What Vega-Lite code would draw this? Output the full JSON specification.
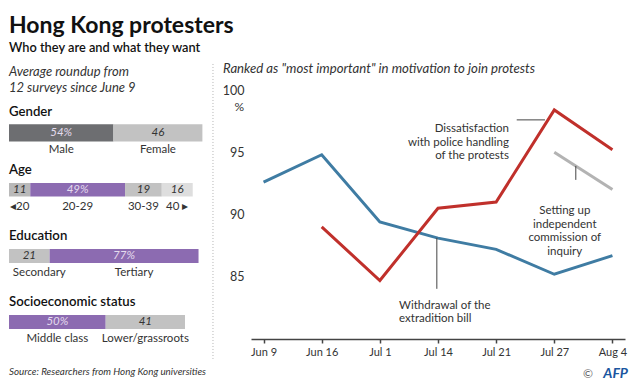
{
  "$schema": "https://vega.github.io/schema/vega-lite/v6.json",
  "padding": {"left": 9, "top": 14, "right": 13, "bottom": 4},
  "background": "white",
  "config": {
    "font": "Lato",
    "view": {"stroke": null},
    "title": {"anchor": "start", "font": "Lato", "color": "#111"},
    "text": {"font": "Lato"}
  },
  "title": {
    "text": "Hong Kong protesters",
    "subtitle": "Who they are and what they want",
    "fontSize": 23, "fontWeight": "bold", "color": "#111",
    "subtitleFontSize": 12.8, "subtitleFontWeight": 600, "subtitleColor": "#111",
    "subtitlePadding": 4, "offset": 7, "anchor": "start"
  },
  "spacing": 5,
  "hconcat": [
    {
      "title": {"text": "Source: Researchers from Hong Kong universities", "orient": "bottom", "anchor": "start", "fontSize": 9.8, "fontStyle": "italic", "fontWeight": "normal", "color": "#333", "offset": 22},
      "resolve": {"scale": {"color": "independent"}},
      "vconcat": [
        {
          "title": {"text": ["Average roundup from", "12 surveys since June 9"], "anchor": "start", "fontSize": 13, "fontStyle": "italic", "fontWeight": "normal", "color": "#333", "lineHeight": 16, "offset": -4.5},
          "spacing": 6,
          "resolve": {"scale": {"color": "independent"}},
          "vconcat": [
            {
              "title": {"text": "Gender", "fontSize": 13.2, "fontWeight": 600, "color": "#111", "offset": -29.5},
              "width": 193.4, "height": 51.5,
              "data": {"values": [
                {"sec": "Gender", "cat": "Male", "pct": 54, "label": "54%", "o": 1},
                {"sec": "Gender", "cat": "Female", "pct": 46, "label": "46", "o": 2}
              ]},
              "encoding": {
                "y": {"field": "sec", "type": "nominal", "axis": null, "scale": {"paddingInner": 0, "paddingOuter": 1.407, "align": 1}},
                "x": {"field": "pct", "type": "quantitative", "stack": "zero", "axis": null, "scale": {"domain": [0, 100]}},
                "order": {"field": "o"},
                "detail": {"field": "cat"}
              },
              "layer": [
                {"mark": {"type": "bar"}, "encoding": {"color": {"field": "cat", "type": "nominal", "legend": null, "scale": {"domain": ["Male", "Female"], "range": ["#6d6e71", "#c2c2c2"]}}}},
                {"mark": {"type": "text", "fontStyle": "italic", "fontSize": 11.5}, "encoding": {"x": {"field": "pct", "type": "quantitative", "stack": "zero", "bandPosition": 0.5}, "text": {"field": "label"}, "color": {"condition": {"test": "indexof(['Male','20-29','Tertiary','Middle class'], datum.cat) >= 0", "value": "#e4dcee"}, "value": "#333333"}}},
                {"mark": {"type": "text", "fontSize": 11.5, "dy": 17, "color": "#333"}, "encoding": {"x": {"field": "pct", "type": "quantitative", "stack": "zero", "bandPosition": 0.5}, "text": {"field": "cat"}}}
              ]
            },
            {
              "spacing": 15,
              "resolve": {"scale": {"color": "independent"}},
              "vconcat": [
                {
                  "title": {"text": "Age", "fontSize": 13.2, "fontWeight": 600, "color": "#111", "offset": 6},
                  "width": 193.4, "height": 13.5,
                  "data": {"values": [
                    {"sec": "Age", "cat": "◂20", "pct": 11, "label": "11", "o": 1},
                    {"sec": "Age", "cat": "20-29", "pct": 49, "label": "49%", "o": 2},
                    {"sec": "Age", "cat": "30-39", "pct": 19, "label": "19", "o": 3},
                    {"sec": "Age", "cat": "40 ▸", "pct": 16, "label": "16", "o": 4}
                  ]},
                  "encoding": {
                    "y": {"field": "sec", "type": "nominal", "axis": null, "scale": {"paddingInner": 0, "paddingOuter": 0}},
                    "x": {"field": "pct", "type": "quantitative", "stack": "zero", "axis": null, "scale": {"domain": [0, 100]}},
                    "order": {"field": "o"},
                    "detail": {"field": "cat"}
                  },
                  "layer": [
                    {"mark": {"type": "bar"}, "encoding": {"color": {"field": "cat", "type": "nominal", "legend": null, "scale": {"domain": ["◂20", "20-29", "30-39", "40 ▸"], "range": ["#b9b9b9", "#8c6bb1", "#c2c2c2", "#dedede"]}}}},
                    {"mark": {"type": "text", "fontStyle": "italic", "fontSize": 11.5}, "encoding": {"x": {"field": "pct", "type": "quantitative", "stack": "zero", "bandPosition": 0.5}, "text": {"field": "label"}, "color": {"condition": {"test": "indexof(['Male','20-29','Tertiary','Middle class'], datum.cat) >= 0", "value": "#e4dcee"}, "value": "#333333"}}},
                    {"mark": {"type": "text", "fontSize": 11.5, "dy": 17, "color": "#333"}, "encoding": {"x": {"field": "pct", "type": "quantitative", "stack": "zero", "bandPosition": 0.5}, "text": {"field": "cat"}}}
                  ]
                },
                {
                  "title": {"text": "Education", "fontSize": 13.2, "fontWeight": 600, "color": "#111", "offset": 6},
                  "width": 193.4, "height": 14,
                  "data": {"values": [
                    {"sec": "Education", "cat": "Secondary", "pct": 21, "label": "21", "o": 1},
                    {"sec": "Education", "cat": "Tertiary", "pct": 77, "label": "77%", "o": 2}
                  ]},
                  "encoding": {
                    "y": {"field": "sec", "type": "nominal", "axis": null, "scale": {"paddingInner": 0, "paddingOuter": 0}},
                    "x": {"field": "pct", "type": "quantitative", "stack": "zero", "axis": null, "scale": {"domain": [0, 100]}},
                    "order": {"field": "o"},
                    "detail": {"field": "cat"}
                  },
                  "layer": [
                    {"mark": {"type": "bar"}, "encoding": {"color": {"field": "cat", "type": "nominal", "legend": null, "scale": {"domain": ["Secondary", "Tertiary"], "range": ["#c2c2c2", "#8c6bb1"]}}}},
                    {"mark": {"type": "text", "fontStyle": "italic", "fontSize": 11.5}, "encoding": {"x": {"field": "pct", "type": "quantitative", "stack": "zero", "bandPosition": 0.5}, "text": {"field": "label"}, "color": {"condition": {"test": "indexof(['Male','20-29','Tertiary','Middle class'], datum.cat) >= 0", "value": "#e4dcee"}, "value": "#333333"}}},
                    {"mark": {"type": "text", "fontSize": 11.5, "dy": 17, "dx": 10, "color": "#333"}, "encoding": {"x": {"field": "pct", "type": "quantitative", "stack": "zero", "bandPosition": 0.5}, "text": {"field": "cat"}}}
                  ]
                },
                {
                  "title": {"text": "Socioeconomic status", "fontSize": 13.2, "fontWeight": 600, "color": "#111", "offset": 6},
                  "width": 193.4, "height": 14,
                  "data": {"values": [
                    {"sec": "Socioeconomic status", "cat": "Middle class", "pct": 50, "label": "50%", "o": 1},
                    {"sec": "Socioeconomic status", "cat": "Lower/grassroots", "pct": 41, "label": "41", "o": 2}
                  ]},
                  "encoding": {
                    "y": {"field": "sec", "type": "nominal", "axis": null, "scale": {"paddingInner": 0, "paddingOuter": 0}},
                    "x": {"field": "pct", "type": "quantitative", "stack": "zero", "axis": null, "scale": {"domain": [0, 100]}},
                    "order": {"field": "o"},
                    "detail": {"field": "cat"}
                  },
                  "layer": [
                    {"mark": {"type": "bar"}, "encoding": {"color": {"field": "cat", "type": "nominal", "legend": null, "scale": {"domain": ["Middle class", "Lower/grassroots"], "range": ["#8c6bb1", "#c2c2c2"]}}}},
                    {"mark": {"type": "text", "fontStyle": "italic", "fontSize": 11.5}, "encoding": {"x": {"field": "pct", "type": "quantitative", "stack": "zero", "bandPosition": 0.5}, "text": {"field": "label"}, "color": {"condition": {"test": "indexof(['Male','20-29','Tertiary','Middle class'], datum.cat) >= 0", "value": "#e4dcee"}, "value": "#333333"}}},
                    {"mark": {"type": "text", "fontSize": 11.5, "dy": 17, "color": "#333"}, "encoding": {"x": {"field": "pct", "type": "quantitative", "stack": "zero", "bandPosition": 0.5}, "text": {"field": "cat"}}}
                  ]
                }
              ]
            }
          ]
        }
      ]
    },
    {
      "width": 374, "height": 249,
      "title": {"text": "Ranked as \"most important\" in motivation to join protests", "fontSize": 13.2, "fontStyle": "italic", "fontWeight": "normal", "color": "#333", "anchor": "start", "frame": "group", "dx": -28, "offset": -12.5},
      "data": {"values": [
        {"date": "Jun 9", "idx": 0, "motive": "Withdrawal of the extradition bill", "pct": 92.6},
        {"date": "Jun 16", "idx": 1, "motive": "Withdrawal of the extradition bill", "pct": 94.8},
        {"date": "Jul 1", "idx": 2, "motive": "Withdrawal of the extradition bill", "pct": 89.4},
        {"date": "Jul 14", "idx": 3, "motive": "Withdrawal of the extradition bill", "pct": 88.1},
        {"date": "Jul 21", "idx": 4, "motive": "Withdrawal of the extradition bill", "pct": 87.2},
        {"date": "Jul 27", "idx": 5, "motive": "Withdrawal of the extradition bill", "pct": 85.2},
        {"date": "Aug 4", "idx": 6, "motive": "Withdrawal of the extradition bill", "pct": 86.7},
        {"date": "Jun 16", "idx": 1, "motive": "Dissatisfaction with police handling of the protests", "pct": 89.0},
        {"date": "Jul 1", "idx": 2, "motive": "Dissatisfaction with police handling of the protests", "pct": 84.7},
        {"date": "Jul 14", "idx": 3, "motive": "Dissatisfaction with police handling of the protests", "pct": 90.5},
        {"date": "Jul 21", "idx": 4, "motive": "Dissatisfaction with police handling of the protests", "pct": 91.0},
        {"date": "Jul 27", "idx": 5, "motive": "Dissatisfaction with police handling of the protests", "pct": 98.4},
        {"date": "Aug 4", "idx": 6, "motive": "Dissatisfaction with police handling of the protests", "pct": 95.2},
        {"date": "Jul 27", "idx": 5, "motive": "Setting up independent commission of inquiry", "pct": 95.0},
        {"date": "Aug 4", "idx": 6, "motive": "Setting up independent commission of inquiry", "pct": 92.0}
      ]},
      "layer": [
        {
          "data": {"values": [{}]},
          "mark": {"type": "rule", "color": "#b5b5b5", "strokeDash": [1, 2], "strokeWidth": 1},
          "encoding": {
            "x": {"datum": -0.87, "type": "quantitative", "scale": {"domain": [-0.216, 6.216], "nice": false, "zero": false}},
            "y": {"datum": 102.09, "type": "quantitative", "scale": {"domain": [80, 100], "nice": false, "zero": false}},
            "y2": {"datum": 78.4}
          }
        },
        {
          "mark": {"type": "line", "strokeWidth": 3},
          "encoding": {
            "x": {"field": "idx", "type": "quantitative", "title": null,
                  "scale": {"domain": [-0.216, 6.216], "nice": false, "zero": false},
                  "axis": {"values": [0, 1, 2, 3, 4, 5, 6], "labelExpr": "['Jun 9','Jun 16','Jul 1','Jul 14','Jul 21','Jul 27','Aug 4'][datum.value]", "grid": false, "domainColor": "#444", "domainWidth": 1.5, "tickColor": "#444", "tickWidth": 1.5, "tickSize": 4, "labelFontSize": 11, "labelColor": "#333", "labelPadding": 3, "labelFont": "Lato"}},
            "y": {"field": "pct", "type": "quantitative", "title": null,
                  "scale": {"domain": [80, 100], "nice": false, "zero": false},
                  "axis": {"values": [85, 90, 95, 100], "domain": false, "ticks": false, "labelPadding": 7, "labelFontSize": 12.5, "labelColor": "#333", "gridColor": "#dedede", "gridWidth": 1, "labelFont": "Lato"}},
            "color": {"field": "motive", "type": "nominal", "legend": null,
                      "scale": {"domain": ["Withdrawal of the extradition bill", "Dissatisfaction with police handling of the protests", "Setting up independent commission of inquiry"], "range": ["#3f7ca3", "#c0302b", "#b3b3b3"]}}
          }
        },
        {
          "data": {"values": [{}]},
          "mark": {"type": "text", "align": "right", "baseline": "middle", "dx": -7, "fontSize": 12, "color": "#333"},
          "encoding": {
            "x": {"datum": -0.216, "type": "quantitative", "scale": {"domain": [-0.216, 6.216], "nice": false, "zero": false}},
            "y": {"datum": 98.63, "type": "quantitative", "scale": {"domain": [80, 100], "nice": false, "zero": false}},
            "text": {"value": "%"}
          }
        },
        {
          "data": {"values": [{}]},
          "mark": {"type": "text", "align": "right", "baseline": "middle", "fontSize": 11.5, "lineHeight": 13.5, "color": "#333"},
          "encoding": {
            "x": {"datum": 4.22, "type": "quantitative", "scale": {"domain": [-0.216, 6.216], "nice": false, "zero": false}},
            "y": {"datum": 96.83, "type": "quantitative", "scale": {"domain": [80, 100], "nice": false, "zero": false}},
            "text": {"value": ["Dissatisfaction", "with police handling", "of the protests"]}
          }
        },
        {
          "data": {"values": [{}]},
          "mark": {"type": "text", "align": "center", "baseline": "middle", "fontSize": 11.5, "lineHeight": 13.5, "color": "#333"},
          "encoding": {
            "x": {"datum": 5.18, "type": "quantitative", "scale": {"domain": [-0.216, 6.216], "nice": false, "zero": false}},
            "y": {"datum": 90.28, "type": "quantitative", "scale": {"domain": [80, 100], "nice": false, "zero": false}},
            "text": {"value": ["Setting up", "independent", "commission of", "inquiry"]}
          }
        },
        {
          "data": {"values": [{}]},
          "mark": {"type": "text", "align": "left", "baseline": "middle", "fontSize": 11.5, "lineHeight": 13, "color": "#333"},
          "encoding": {
            "x": {"datum": 2.33, "type": "quantitative", "scale": {"domain": [-0.216, 6.216], "nice": false, "zero": false}},
            "y": {"datum": 82.63, "type": "quantitative", "scale": {"domain": [80, 100], "nice": false, "zero": false}},
            "text": {"value": ["Withdrawal of the", "extradition bill"]}
          }
        },
        {
          "data": {"values": [{}]},
          "mark": {"type": "rule", "color": "#444", "strokeWidth": 1},
          "encoding": {
            "x": {"datum": 4.354, "type": "quantitative", "scale": {"domain": [-0.216, 6.216], "nice": false, "zero": false}},
            "x2": {"datum": 4.84},
            "y": {"datum": 97.6, "type": "quantitative", "scale": {"domain": [80, 100], "nice": false, "zero": false}}
          }
        },
        {
          "data": {"values": [{}]},
          "mark": {"type": "rule", "color": "#444", "strokeWidth": 1},
          "encoding": {
            "x": {"datum": 5.37, "type": "quantitative", "scale": {"domain": [-0.216, 6.216], "nice": false, "zero": false}},
            "y": {"datum": 93.9, "type": "quantitative", "scale": {"domain": [80, 100], "nice": false, "zero": false}},
            "y2": {"datum": 92.78}
          }
        },
        {
          "data": {"values": [{}]},
          "mark": {"type": "rule", "color": "#444", "strokeWidth": 1},
          "encoding": {
            "x": {"datum": 2.98, "type": "quantitative", "scale": {"domain": [-0.216, 6.216], "nice": false, "zero": false}},
            "y": {"datum": 88.12, "type": "quantitative", "scale": {"domain": [80, 100], "nice": false, "zero": false}},
            "y2": {"datum": 84.03}
          }
        },
        {
          "data": {"values": [{}]},
          "mark": {"type": "text", "align": "right", "baseline": "middle", "fontSize": 14, "fontWeight": "bold", "fontStyle": "italic", "color": "#1a56a0"},
          "encoding": {
            "x": {"datum": 6.267, "type": "quantitative", "scale": {"domain": [-0.216, 6.216], "nice": false, "zero": false}},
            "y": {"datum": 77.19, "type": "quantitative", "scale": {"domain": [80, 100], "nice": false, "zero": false}},
            "text": {"value": "AFP"}
          }
        },
        {
          "data": {"values": [{}]},
          "mark": {"type": "text", "align": "center", "baseline": "middle", "fontSize": 12, "color": "#666"},
          "encoding": {
            "x": {"datum": 5.58, "type": "quantitative", "scale": {"domain": [-0.216, 6.216], "nice": false, "zero": false}},
            "y": {"datum": 77.19, "type": "quantitative", "scale": {"domain": [80, 100], "nice": false, "zero": false}},
            "text": {"value": "©"}
          }
        }
      ]
    }
  ]
}
